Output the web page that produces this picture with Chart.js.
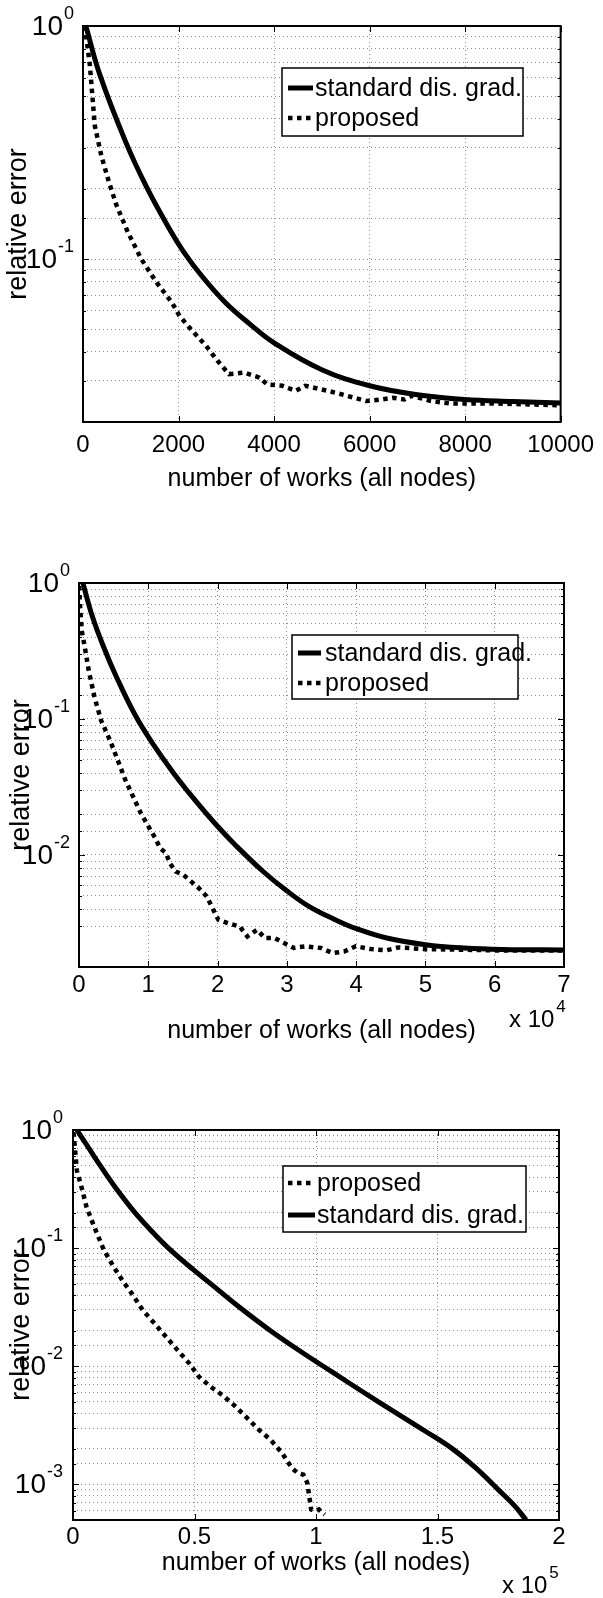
<!DOCTYPE html>
<html>
<head>
<meta charset="utf-8">
<title>relative error vs number of works</title>
<script src="https://cdn.jsdelivr.net/npm/chart.js@4.4.1/dist/chart.umd.min.js"></script>
<style>
  body { margin: 0; background: #fff; width: 603px; height: 1598px; position: relative; overflow: hidden; }
  .panel { position: absolute; left: 0; width: 603px; }
</style>
</head>
<body>
<div class="panel" style="top:0px"><canvas id="c1" width="603" height="520"></canvas></div>
<div class="panel" style="top:520px"><canvas id="c2" width="603" height="530"></canvas></div>
<div class="panel" style="top:1050px"><canvas id="c3" width="603" height="548"></canvas></div>
<script>
// ---- data ----
// panel 1
const x1Std = [60, 350, 900, 1330, 1780, 2100, 2500, 3000, 3500, 4000, 5000, 6000, 7000, 8000, 9000, 10000];
const y1Std = [1.0, 0.62, 0.316, 0.204, 0.138, 0.108, 0.084, 0.0645, 0.0525, 0.0437, 0.0335, 0.0286, 0.0262, 0.0250, 0.0245, 0.0241];
const x1Prop = [40, 144, 247, 383, 543, 702, 942, 1221, 1540, 1860, 2019, 2259, 2578, 2817, 3057, 3376, 3695, 3855, 4174, 4453, 4653, 5132, 5531, 5930, 6249, 6488, 6728, 6887, 7286, 7686, 8643, 10000];
const y1Prop = [1.0, 0.678, 0.374, 0.278, 0.214, 0.170, 0.130, 0.1, 0.0794, 0.0652, 0.0571, 0.0500, 0.0424, 0.0366, 0.0321, 0.0326, 0.0310, 0.0290, 0.0286, 0.0272, 0.0286, 0.0272, 0.0259, 0.0246, 0.0250, 0.0254, 0.0250, 0.0259, 0.0246, 0.0240, 0.0240, 0.0236];

// panel 2
const x2Std = [559, 1955, 3631, 5307, 8101, 10894, 13687, 16480, 19832, 22626, 26536, 29888, 33240, 37151, 39944, 44413, 50000, 55587, 61173, 70000];
const y2Std = [1.0, 0.562, 0.331, 0.209, 0.107, 0.0631, 0.0398, 0.0263, 0.0166, 0.01175, 0.00759, 0.00550, 0.00417, 0.00331, 0.00288, 0.00245, 0.00219, 0.00207, 0.00202, 0.00200];
const x2Prop = [0, 168, 391, 838, 1397, 2235, 3184, 4469, 5587, 6704, 7821, 8939, 10056, 10894, 11732, 12570, 13128, 13966, 15084, 16201, 17318, 18436, 19274, 20112, 21508, 23184, 24302, 25698, 26815, 28212, 29609, 31006, 32682, 34916, 36592, 38268, 39944, 42179, 44413, 46089, 50000, 55587, 61173, 70000];
const y2Prop = [0.95, 0.663, 0.447, 0.337, 0.228, 0.145, 0.0978, 0.0698, 0.0498, 0.0355, 0.0268, 0.0202, 0.0161, 0.0136, 0.0112, 0.0103, 0.00868, 0.00755, 0.00713, 0.00637, 0.00570, 0.00495, 0.00406, 0.00334, 0.00315, 0.00298, 0.00252, 0.00282, 0.00245, 0.00245, 0.00225, 0.00207, 0.00213, 0.00207, 0.00190, 0.00195, 0.00213, 0.00203, 0.00199, 0.00209, 0.00203, 0.00201, 0.00198, 0.00198];

// panel 3
const x3Std = [1594, 6374, 11155, 17530, 25498, 33466, 39840, 49402, 58964, 68525, 81274, 94022, 106771, 119520, 132269, 145018, 156173, 165735, 175297, 181671, 186452];
const y3Std = [1.0, 0.708, 0.501, 0.324, 0.1995, 0.132, 0.0977, 0.0661, 0.0457, 0.0316, 0.0200, 0.0132, 0.00891, 0.00603, 0.00412, 0.00282, 0.00200, 0.00138, 0.000891, 0.000661, 0.000501];
const x3Prop = [0, 300, 800, 1594, 3506, 5578, 8765, 12749, 16733, 20717, 24701, 28685, 33466, 38247, 43028, 47809, 51793, 56574, 61355, 66135, 71713, 76494, 81275, 86056, 90040, 92430, 94821, 96414, 97211, 98008, 99602, 101195, 103586];
const y3Prop = [0.95, 0.92, 0.70, 0.454, 0.328, 0.223, 0.151, 0.0959, 0.0694, 0.0518, 0.0400, 0.0299, 0.0231, 0.0178, 0.0137, 0.0106, 0.00818, 0.00673, 0.00573, 0.00472, 0.00364, 0.00290, 0.00239, 0.00184, 0.00138, 0.00125, 0.00121, 0.00103, 0.000795, 0.000614, 0.000594, 0.000614, 0.000556];

const labelStd = 'standard dis. grad.';
const labelProp = 'proposed';
const xTitle = 'number of works (all nodes)';
const yTitle = 'relative error';

Chart.defaults.font.family = "'Liberation Sans', Arial, Helvetica, sans-serif";
Chart.defaults.color = '#000';

function pts(xs, ys) {
  return xs.map((v, i) => ({ x: v, y: ys[i] }));
}

function isDecade(v) {
  const l = Math.log10(v);
  return Math.abs(l - Math.round(l)) < 1e-6;
}

// box, inward ticks, decade labels with exponents, x multiplier and legend
const framePlugin = {
  id: 'frame',
  afterDatasetsDraw(chart, args, opts) {
    const { ctx, chartArea: a, scales: { x, y } } = chart;
    const fam = Chart.defaults.font.family;
    ctx.save();
    ctx.strokeStyle = '#000';
    ctx.lineWidth = 1;
    ctx.setLineDash([]);
    ctx.beginPath();
    y.ticks.forEach(t => {
      const py = Math.round(y.getPixelForValue(t.value)) + 0.5;
      const len = isDecade(t.value) ? 6 : 3;
      ctx.moveTo(a.left, py); ctx.lineTo(a.left + len, py);
      ctx.moveTo(a.right, py); ctx.lineTo(a.right - len, py);
    });
    x.ticks.forEach(t => {
      const px = Math.round(x.getPixelForValue(t.value)) + 0.5;
      ctx.moveTo(px, a.bottom); ctx.lineTo(px, a.bottom - 6);
      ctx.moveTo(px, a.top); ctx.lineTo(px, a.top + 6);
    });
    ctx.stroke();
    ctx.lineWidth = 2;
    ctx.strokeRect(a.left, a.top, a.right - a.left, a.bottom - a.top);

    // y labels 10^k
    ctx.fillStyle = '#000';
    ctx.textBaseline = 'middle';
    y.ticks.forEach(t => {
      if (!isDecade(t.value)) return;
      const py = y.getPixelForValue(t.value);
      const e = String(Math.round(Math.log10(t.value)));
      ctx.font = '18px ' + fam;
      const ew = ctx.measureText(e).width;
      const right = a.left - opts.yLabelGap;
      ctx.textAlign = 'left';
      ctx.fillText(e, right - ew, py - 12);
      ctx.font = '28px ' + fam;
      ctx.textAlign = 'right';
      ctx.fillText('10', right - ew - 1, py + 1);
    });

    // x multiplier
    if (opts.mult) {
      const m = opts.mult;
      ctx.font = '24px ' + fam;
      ctx.textAlign = 'left';
      ctx.fillText('x 10', m.x, m.y);
      const w = ctx.measureText('x 10').width;
      ctx.font = '17px ' + fam;
      ctx.fillText(m.exp, m.x + w + 2, m.y - 13);
    }

    // legend
    const lg = opts.legend;
    ctx.fillStyle = '#fff';
    ctx.fillRect(lg.x, lg.y, lg.w, lg.h);
    ctx.lineWidth = 1.5;
    ctx.strokeStyle = '#000';
    ctx.strokeRect(lg.x, lg.y, lg.w, lg.h);
    chart.data.datasets.forEach((ds, i) => {
      const ry = lg.rows[i];
      ctx.beginPath();
      ctx.lineWidth = ds.borderWidth;
      ctx.setLineDash(ds.borderDash || []);
      ctx.moveTo(lg.x + lg.sample[0], ry);
      ctx.lineTo(lg.x + lg.sample[1], ry);
      ctx.stroke();
      ctx.setLineDash([]);
      ctx.fillStyle = '#000';
      ctx.font = '25px ' + fam;
      ctx.textAlign = 'left';
      ctx.textBaseline = 'middle';
      ctx.fillText(ds.label, lg.x + lg.textX, ry + 1);
    });
    ctx.restore();
  }
};

function stdSet(xs, ys) {
  return { label: labelStd, data: pts(xs, ys), borderColor: '#000', borderWidth: 5,
           pointRadius: 0, tension: 0.4, fill: false };
}
function propSet(xs, ys) {
  return { label: labelProp, data: pts(xs, ys), borderColor: '#000', borderWidth: 4.5,
           borderDash: [4.5, 4.5], borderCapStyle: 'butt', pointRadius: 0, tension: 0, fill: false };
}

function makeChart(id, cfg) {
  const H = document.getElementById(id).height;
  const gridStyle = { color: '#8c8c8c', lineWidth: 1, drawTicks: false };
  return new Chart(document.getElementById(id), {
    type: 'line',
    data: { datasets: cfg.datasets },
    options: {
      responsive: false,
      animation: false,
      layout: { padding: { top: cfg.area.top, right: 603 - cfg.area.right, left: 0, bottom: 0 } },
      plugins: {
        legend: { display: false },
        tooltip: { enabled: false },
        frame: { legend: cfg.legend, mult: cfg.mult, yLabelGap: cfg.yLabelGap }
      },
      scales: {
        x: {
          type: 'linear', min: 0, max: cfg.xMax,
          grid: gridStyle,
          border: { display: false, dash: [1, 3] },
          ticks: { stepSize: cfg.xStep, padding: cfg.xTickPad, maxRotation: 0,
                   font: { size: 24 }, color: '#000',
                   callback: v => String(+(v / cfg.xDiv).toFixed(2)) },
          title: { display: true, text: xTitle, color: '#000', font: { size: 25 },
                   padding: { top: 0, bottom: cfg.xTitlePad } },
          afterFit: s => { s.height = H - cfg.area.bottom; }
        },
        y: {
          type: 'logarithmic', min: cfg.yMin, max: 1,
          grid: gridStyle,
          border: { display: false, dash: [1, 3] },
          ticks: { display: false },
          title: { display: true, text: yTitle, color: '#000', font: { size: 27 },
                   padding: { top: cfg.yTitlePad, bottom: 0 } },
          afterFit: s => { s.width = cfg.area.left; }
        }
      }
    },
    plugins: [framePlugin]
  });
}

makeChart('c1', {
  datasets: [stdSet(x1Std, y1Std), propSet(x1Prop, y1Prop)],
  area: { left: 83, right: 566, top: 26, bottom: 422 },
  xMax: 10000, xStep: 2000, xDiv: 1, yMin: 0.02,
  xTickPad: 9, xTitlePad: 26, yTitlePad: 2, yLabelGap: 9,
  legend: { x: 282, y: 68, w: 241, h: 68, rows: [88, 118], sample: [6, 31], textX: 33 }
});

makeChart('c2', {
  datasets: [stdSet(x2Std, y2Std), propSet(x2Prop, y2Prop)],
  area: { left: 79, right: 564, top: 63, bottom: 447 },
  xMax: 70000, xStep: 10000, xDiv: 10000, yMin: 0.0015,
  xTickPad: 4, xTitlePad: 4, yTitlePad: 5, yLabelGap: 9,
  legend: { x: 292, y: 115, w: 226, h: 64, rows: [133, 163], sample: [6, 29], textX: 33 },
  mult: { x: 509, y: 500, exp: '4' }
});

makeChart('c3', {
  datasets: [propSet(x3Prop, y3Prop), stdSet(x3Std, y3Std)],
  area: { left: 73, right: 559, top: 80, bottom: 470 },
  xMax: 200000, xStep: 50000, xDiv: 100000, yMin: 0.0005,
  xTickPad: 3, xTitlePad: 20, yTitlePad: 5, yLabelGap: 10,
  legend: { x: 283, y: 116, w: 243, h: 66, rows: [133, 165], sample: [5, 32], textX: 34 },
  mult: { x: 502, y: 536, exp: '5' }
});
</script>
</body>
</html>
